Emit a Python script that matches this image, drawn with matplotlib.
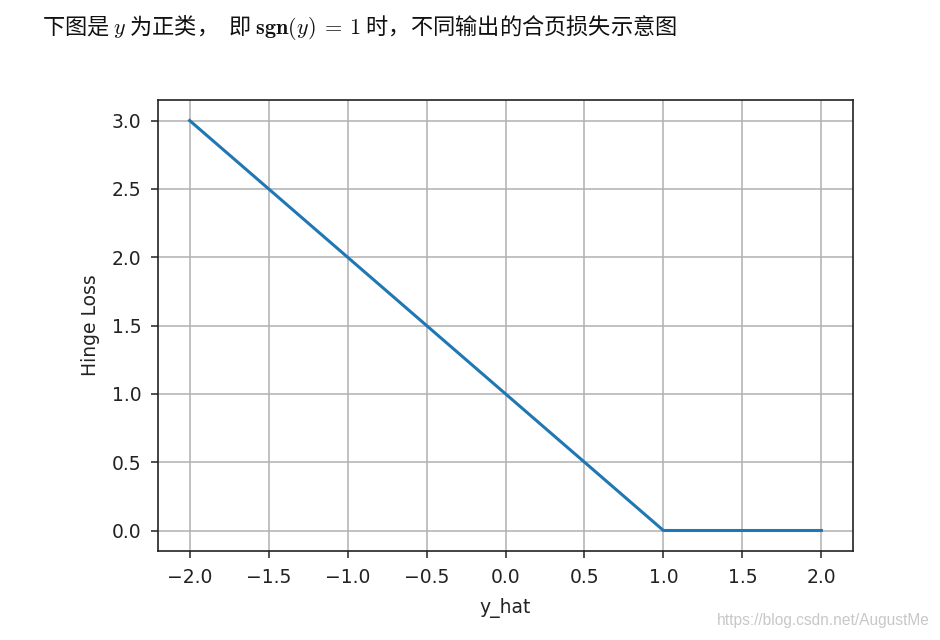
import matplotlib
matplotlib.use("Agg")
import matplotlib.pyplot as plt

# data
y_hat = [-2.0, 1.0, 2.0]
hinge_loss = [3.0, 0.0, 0.0]
x_ticks = [-2.0, -1.5, -1.0, -0.5, 0.0, 0.5, 1.0, 1.5, 2.0]
y_ticks = [0.0, 0.5, 1.0, 1.5, 2.0, 2.5, 3.0]

plt.rcParams['mathtext.fontset'] = 'cm'

fig = plt.figure(figsize=(9.4, 6.4), dpi=100)
ax = fig.add_axes([158/940, 1-551/640, (853-158)/940, (551-100)/640])

ax.plot(y_hat, hinge_loss, color='#1f77b4', linewidth=2.2)
ax.set_xticks(x_ticks)
ax.set_yticks(y_ticks)
ax.set_xticklabels([f"{v:.1f}".replace('-', '\u2212') for v in x_ticks])
ax.set_yticklabels([f"{v:.1f}" for v in y_ticks])
ax.tick_params(labelsize=13.5, length=5, width=1.1, colors='#222222')
ax.tick_params(axis='x', pad=7)
ax.tick_params(axis='y', pad=7)
ax.grid(True, color='#b0b0b0', linewidth=1.1)
for s in ax.spines.values():
    s.set_linewidth(1.2)
    s.set_color('#222222')
ax.set_xlabel('y_hat', fontsize=13.5, color='#222222', labelpad=8.5)
ax.set_ylabel('Hinge Loss', fontsize=13.5, color='#222222', labelpad=8.5)

fig.text(42/940, 1-28/640,
         r'下图是 $y$ 为正类，  即 $\mathbf{sgn}(y)\:=\:1$ 时，不同输出的合页损失示意图',
         fontsize=16, family='Noto Sans CJK SC', va='center', ha='left', color='#111111')

fig.text(930/940, 1-621/640, 'https://blog.csdn.net/AugustMe', fontsize=11.2,
         family='Liberation Sans', color='#c8c8c8', ha='right', va='center')

fig.savefig('out.png', dpi=100, facecolor='white')
